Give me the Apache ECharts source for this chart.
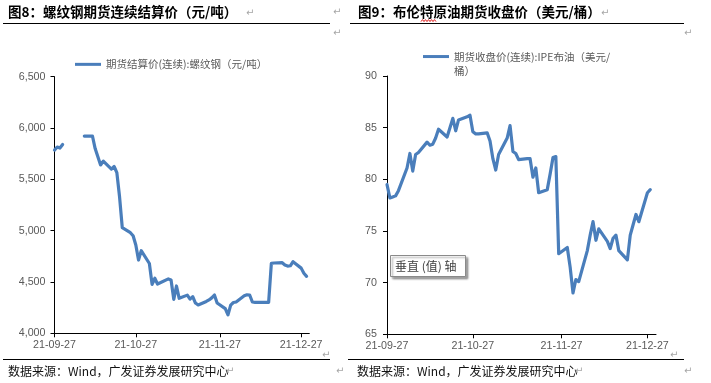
<!DOCTYPE html>
<html><head><meta charset="utf-8">
<script src="https://cdn.jsdelivr.net/npm/echarts@6/dist/echarts.min.js"></script>
<style>html,body{margin:0;padding:0;background:#fff}#c{width:711px;height:383px}</style>
</head><body><div id="c"></div>
<script>
// ---- data ----
const axisStart = '2021-09-27';
const axisEnd = '2021-12-30';
const xTickLabels = ['21-09-27', '21-10-27', '21-11-27', '21-12-27'];

const rebarName = '期货结算价(连续):螺纹钢（元/吨）';
const rebarDates = ['21-09-27','21-09-28','21-09-29','21-09-30','21-10-01',
  '21-10-08','21-10-11','21-10-12','21-10-13','21-10-14','21-10-15','21-10-18','21-10-19','21-10-20','21-10-21','21-10-22','21-10-25','21-10-26','21-10-27','21-10-28','21-10-29',
  '21-11-01','21-11-02','21-11-03','21-11-04','21-11-05','21-11-08','21-11-09','21-11-10','21-11-11','21-11-12','21-11-15','21-11-16','21-11-17','21-11-18','21-11-19','21-11-22','21-11-23','21-11-24','21-11-25','21-11-26','21-11-29','21-11-30',
  '21-12-01','21-12-02','21-12-03','21-12-06','21-12-07','21-12-08','21-12-09','21-12-10','21-12-13','21-12-14','21-12-15','21-12-16','21-12-17','21-12-20','21-12-21','21-12-22','21-12-23','21-12-24','21-12-27','21-12-28','21-12-29'];
const rebarValues = [5785,5815,5805,5840,null,
  5922,5922,5800,5720,5640,5678,5600,5625,5565,5330,5030,4980,4950,4860,4714,4805,
  4680,4477,4536,4480,4492,4530,4520,4331,4461,4341,4372,4333,4357,4295,4276,4310,4325,4345,4373,4295,4240,4180,
  4275,4300,4305,4365,4375,4373,4305,4302,4302,4302,4302,4682,4685,4688,4665,4655,4658,4698,4635,4585,4555];
const rebarYTicks = [4000, 4500, 5000, 5500, 6000, 6500];

const brentName = '期货收盘价(连续):IPE布油（美元/桶）';
const brentLegendLines = ['期货收盘价(连续):IPE布油（美元/', '桶）'];
const brentDates = ['21-09-27','21-09-28','21-09-29','21-09-30','21-10-01',
  '21-10-04','21-10-05','21-10-06','21-10-07','21-10-08','21-10-11','21-10-12','21-10-13','21-10-14','21-10-15','21-10-18','21-10-19','21-10-20','21-10-21','21-10-22','21-10-25','21-10-26','21-10-27','21-10-28','21-10-29',
  '21-11-01','21-11-02','21-11-03','21-11-04','21-11-05','21-11-08','21-11-09','21-11-10','21-11-11','21-11-12','21-11-15','21-11-16','21-11-17','21-11-18','21-11-19','21-11-22','21-11-23','21-11-24','21-11-25','21-11-26','21-11-29','21-11-30',
  '21-12-01','21-12-02','21-12-03','21-12-06','21-12-07','21-12-08','21-12-09','21-12-10','21-12-13','21-12-14','21-12-15','21-12-16','21-12-17','21-12-20','21-12-21','21-12-22','21-12-23','21-12-24','21-12-27','21-12-28'];
const brentValues = [79.5,78.2,78.3,78.4,78.9,
  81.1,82.5,80.8,82.4,82.6,83.6,83.3,83.4,84.0,84.85,84.1,85.0,85.9,84.7,85.75,86.05,86.2,84.6,84.4,84.4,
  84.5,83.7,82.0,80.9,82.4,84.0,85.2,82.7,82.5,81.9,82.0,82.0,80.2,81.1,78.7,79.0,80.5,82.1,82.2,72.8,73.4,71.5,
  69.0,70.3,70.1,73.1,74.6,75.9,74.1,75.2,74.0,73.3,74.3,74.6,73.1,72.2,74.6,75.6,76.6,75.9,78.7,79.0];
const brentYTicks = [65, 70, 75, 80, 85, 90];

// ---- axis construction ----
function pad(n){ return (n < 10 ? '0' : '') + n; }
function buildDays(s, e){
  const out = [];
  const d = new Date(s + 'T00:00:00'), end = new Date(e + 'T00:00:00');
  while (d <= end) {
    out.push(String(d.getFullYear()).slice(2) + '-' + pad(d.getMonth() + 1) + '-' + pad(d.getDate()));
    d.setDate(d.getDate() + 1);
  }
  return out;
}
const days = buildDays(axisStart, axisEnd);
const pairs = (ds, vs) => ds.map((d, i) => [d, vs[i] == null ? '-' : vs[i]]);

const BLUE = '#4a7ebb';
const LAT = '"Liberation Sans", Arial, sans-serif';
const CJK = '"Noto Sans CJK SC", "Noto Sans", sans-serif';
const showTick = (i, v) => xTickLabels.indexOf(v) >= 0;

function xAxis(gi){
  return {
    type: 'category', gridIndex: gi, data: days, boundaryGap: false,
    axisLine: { show: true, lineStyle: { color: '#000', width: 1 } },
    axisTick: { show: true, interval: showTick, length: 4, lineStyle: { color: '#000' } },
    axisLabel: { interval: showTick, margin: 6, color: '#595959', fontSize: 10.7, fontFamily: LAT },
    splitLine: { show: false }
  };
}
function yAxis(gi, ticks, margin, fmt){
  return {
    type: 'value', gridIndex: gi, min: ticks[0], max: ticks[ticks.length - 1], interval: ticks[1] - ticks[0],
    axisLine: { show: true, lineStyle: { color: '#000', width: 1 } },
    axisTick: { show: true, length: 4, lineStyle: { color: '#000' } },
    axisLabel: { margin: margin, color: '#595959', fontSize: 10.7, fontFamily: LAT, formatter: fmt },
    splitLine: { show: false }
  };
}

function txt(x, y, text, font, fill, align){
  return { type: 'text', x: x, y: y, silent: true,
    style: { text: text, font: font, fill: fill, align: align || 'left', verticalAlign: 'middle' } };
}
function hline(x1, x2, y, color){
  return { type: 'line', silent: true, shape: { x1: x1, y1: y, x2: x2, y2: y }, style: { stroke: color || '#000', lineWidth: 1 } };
}
const RET = '10px "DejaVu Sans", sans-serif';
const RETC = '#a6a6a6';
const wave = [];
for (let i = 0; i <= 10; i++) wave.push([421 + i * 1.5, i % 2 ? 19.6 : 21.6]);

const chart = echarts.init(document.getElementById('c'), null, { renderer: 'canvas' });
chart.setOption({
  animation: false,
  backgroundColor: '#fff',
  grid: [
    { left: 54.5, top: 76.7, width: 254.8, height: 256.6, containLabel: false },
    { left: 387, top: 76, width: 269, height: 258.3, containLabel: false }
  ],
  xAxis: [xAxis(0), xAxis(1)],
  yAxis: [
    yAxis(0, rebarYTicks, 9, v => v.toLocaleString('en-US')),
    yAxis(1, brentYTicks, 10, v => String(v))
  ],
  legend: [
    { data: [rebarName], left: 75, top: 59.1, padding: 0, icon: 'rect', itemWidth: 26, itemHeight: 3, selectedMode: false,
      textStyle: { fontSize: 10.5, color: '#595959', fontFamily: CJK } },
    { data: [brentName], left: 423, top: 51.3, padding: 0, icon: 'rect', itemWidth: 26, itemHeight: 3, selectedMode: false,
      formatter: () => brentLegendLines[0],
      textStyle: { fontSize: 10.5, color: '#595959', fontFamily: CJK } }
  ],
  series: [
    { name: rebarName, type: 'line', xAxisIndex: 0, yAxisIndex: 0, data: pairs(rebarDates, rebarValues),
      symbol: 'none', connectNulls: false, color: BLUE,
      lineStyle: { color: BLUE, width: 3.2, join: 'round', cap: 'round' } },
    { name: brentName, type: 'line', xAxisIndex: 1, yAxisIndex: 1, data: pairs(brentDates, brentValues),
      symbol: 'none', color: BLUE,
      lineStyle: { color: BLUE, width: 3.2, join: 'round', cap: 'round' } }
  ],
  graphic: [
    txt(454, 71.5, brentLegendLines[1], '10.5px ' + CJK, '#595959'),
    txt(8, 12, '图8：螺纹钢期货连续结算价（元/吨）', 'bold 13.5px ' + CJK, '#000'),
    txt(358, 12, '图9：布伦特原油期货收盘价（美元/桶）', 'bold 13.5px ' + CJK, '#000'),
    { type: 'polyline', silent: true, shape: { points: wave }, style: { stroke: '#e02020', lineWidth: 1, fill: null } },
    hline(3, 330, 23.5), hline(350, 684, 23.5),
    hline(3, 330, 359.5), hline(348, 684, 359.5),
    txt(8, 371.5, '数据来源：Wind，广发证券发展研究中心', '12px ' + CJK, '#111'),
    txt(357, 371.5, '数据来源：Wind，广发证券发展研究中心', '12px ' + CJK, '#111'),
    txt(246, 13, '↵', RET, RETC), txt(333, 12.5, '↵', RET, RETC), txt(333, 33, '↵', RET, RETC),
    txt(601, 13, '↵', RET, RETC), txt(684, 33, '↵', RET, RETC),
    txt(322, 355, '↵', RET, RETC), txt(670, 355, '↵', RET, RETC),
    txt(226, 371.5, '↵', RET, RETC), txt(336, 371.5, '↵', RET, RETC),
    txt(575, 371.5, '↵', RET, RETC), txt(684, 371.5, '↵', RET, RETC),
    { type: 'rect', silent: true, shape: { x: 390.5, y: 255.5, width: 75, height: 21 },
      style: { fill: '#fff', stroke: '#8a8a8a', lineWidth: 1, shadowBlur: 2, shadowOffsetX: 2, shadowOffsetY: 2, shadowColor: 'rgba(0,0,0,0.35)' } },
    txt(395, 266, '垂直 (值) 轴', '12px ' + CJK, '#404040')
  ]
});
</script></body></html>
